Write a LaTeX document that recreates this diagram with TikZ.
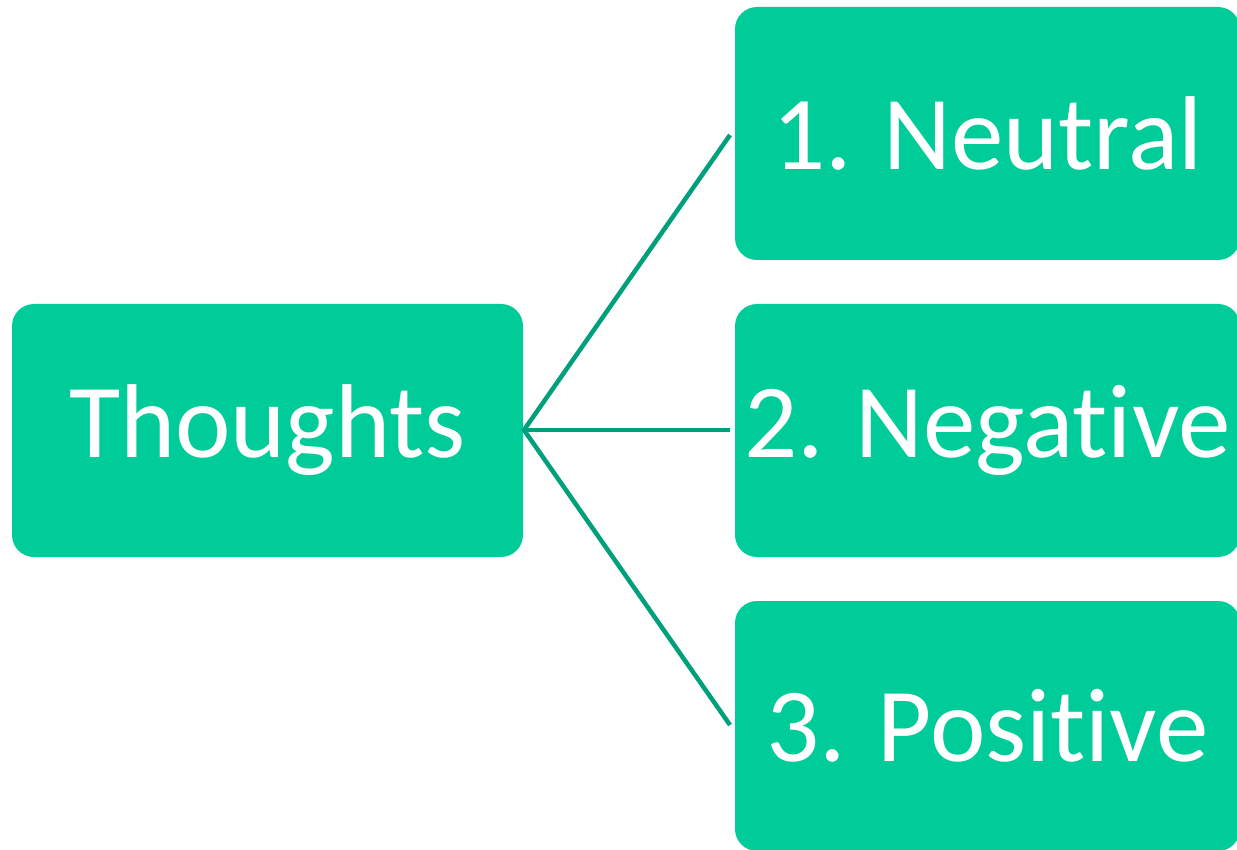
\documentclass[tikz,border=0pt]{standalone}
\usepackage{fontspec}
\setmainfont[Ligatures={NoCommon,NoRequired,NoContextual}]{Carlito}
\definecolor{boxfill}{RGB}{0,204,153}
\definecolor{linkcol}{RGB}{0,160,122}
\begin{document}
\begin{tikzpicture}[x=1pt,y=-1pt,
  box/.style={draw=none, fill=boxfill, rounded corners=22pt, text=white,
    font=\fontsize{105}{118}\selectfont, inner sep=0pt, anchor=center},
  link/.style={draw=linkcol, line width=4.5pt}]
\useasboundingbox (0,0) rectangle (1237,850);
\clip (0,0) rectangle (1237,850);
\node[box, minimum width=511pt, minimum height=253pt] (th) at (267.5,430.5) {Thoughts};
\node[box, minimum width=505pt, minimum height=253pt] (n1) at (987.5,133.5) {1. Neutral};
\node[box, minimum width=505pt, minimum height=253pt] (n2) at (987.5,430.5) {2. Negative};
\node[box, minimum width=505pt, minimum height=250pt] (n3) at (987.5,726) {3. Positive};
\coordinate (e1) at (730,135);
\coordinate (e2) at (730,430);
\coordinate (e3) at (730,725);
\coordinate (s) at (524,430);
\draw[link] (e1) -- (s) -- (e3);
\draw[link] (s) -- (e2);
\end{tikzpicture}
\end{document}
